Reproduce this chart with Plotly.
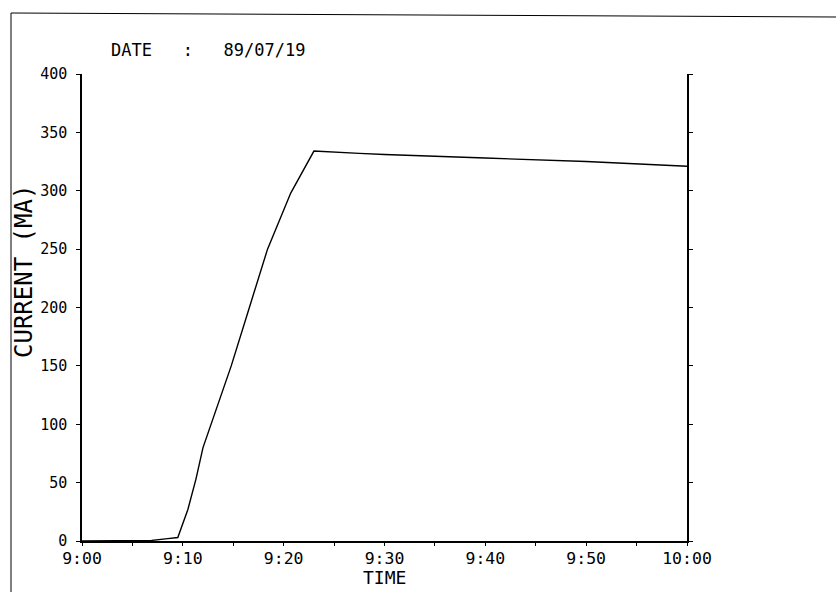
import plotly.graph_objects as go

# minutes after 9:00
minutes = [0, 5, 6.9, 8.5, 9.5, 10.5, 11.3, 12.0, 12.8, 14.8, 16.6, 18.4, 20.7, 23.0, 27.5, 30, 40, 50, 60]
current = [0, 0, 0.5, 2, 3, 27, 53, 80, 100, 150, 200, 250, 298, 334, 332, 331, 328, 325, 321]

xtick_vals = [0, 10, 20, 30, 40, 50, 60]
xtick_text = ["9:00", "9:10", "9:20", "9:30", "9:40", "9:50", "10:00"]
ytick_vals = [0, 50, 100, 150, 200, 250, 300, 350, 400]

FONT = "DejaVu Sans Mono"
L, R, T, B = 82, 149, 74, 51
W, H = 836, 592
pw, ph = W - L - R, H - T - B

def px(x):
    return (x - L) / pw

def py(y):
    return (H - B - y) / ph

fig = go.Figure()
fig.add_trace(go.Scatter(x=minutes, y=current, mode="lines",
                         line=dict(color="black", width=1.4), showlegend=False))

fig.update_layout(
    width=W, height=H,
    margin=dict(l=L, r=R, t=T, b=B, autoexpand=False),
    paper_bgcolor="white", plot_bgcolor="white",
    font=dict(family=FONT, color="black", size=15),
    xaxis=dict(range=[0, 60], tickvals=xtick_vals, ticktext=xtick_text,
               showline=True, linecolor="black", linewidth=1.5,
               ticks="outside", ticklen=3, tickcolor="black",
               tickfont=dict(size=16.5), ticklabelstandoff=-2,
               minor=dict(dtick=5, tick0=0, ticks="outside", ticklen=3, tickcolor="black"),
               showgrid=False, zeroline=False),
    yaxis=dict(range=[0, 400], tickvals=ytick_vals,
               showline=True, linecolor="black", linewidth=1.5, mirror="ticks",
               ticks="outside", ticklen=4, tickcolor="black",
               tickfont=dict(size=15), ticklabelstandoff=6,
               showgrid=False, zeroline=False),
    annotations=[
        dict(text="DATE\u00a0\u00a0\u00a0:\u00a0\u00a0\u00a089/07/19",
             xref="paper", yref="paper", x=px(109), y=py(50),
             xanchor="left", yanchor="middle", showarrow=False,
             font=dict(family=FONT, size=17, color="black")),
        dict(text="TIME", xref="paper", yref="paper", x=0.5, y=py(577),
             xanchor="center", yanchor="middle", showarrow=False,
             font=dict(family=FONT, size=18, color="black")),
        dict(text="CURRENT\u00a0(MA)", xref="paper", yref="paper", x=px(24), y=py(272),
             xanchor="center", yanchor="middle", textangle=-90, showarrow=False,
             font=dict(family=FONT, size=24, color="black")),
    ],
    shapes=[
        dict(type="line", xref="paper", yref="paper", x0=px(11), y0=py(592), x1=px(11), y1=py(13),
             line=dict(color="black", width=1)),
        dict(type="line", xref="paper", yref="paper", x0=px(11), y0=py(13), x1=px(836), y1=py(17),
             line=dict(color="black", width=1)),
    ],
)

fig.write_html("out.html", config={"displayModeBar": False},
               post_script="document.body.style.margin='0px';document.body.style.overflow='hidden';")
